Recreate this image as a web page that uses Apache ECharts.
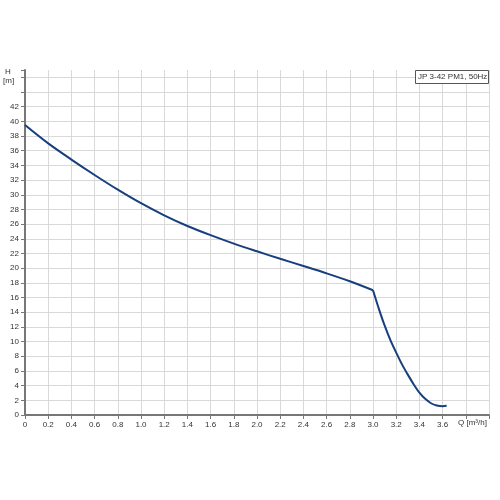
<!DOCTYPE html>
<html><head><meta charset="utf-8">
<script src="https://cdn.jsdelivr.net/npm/echarts@6/dist/echarts.min.js"></script>
<style>html,body{margin:0;padding:0;background:#fff}#c{width:500px;height:500px}</style>
</head><body><div id="c"></div>
<script>
const qUpper = [0, 0.2, 0.4, 0.6, 0.8, 1.0, 1.2, 1.4, 1.6, 1.8, 2.0, 2.2, 2.4, 2.6, 2.8, 3.0];
const hUpper = [39.5, 37.0, 34.8, 32.7, 30.7, 28.85, 27.2, 25.75, 24.5, 23.35, 22.3, 21.28, 20.3, 19.3, 18.22, 17.0];
const qLower = [3.0, 3.05, 3.1, 3.15, 3.2, 3.25, 3.3, 3.35, 3.4, 3.45, 3.5, 3.55, 3.6, 3.635];
const hLower = [17.0, 14.5, 12.2, 10.2, 8.5, 6.9, 5.5, 4.2, 3.05, 2.2, 1.6, 1.3, 1.2, 1.25];
const title = 'JP 3-42 PM1, 50Hz';
const yName = ['H', '[m]'];
const xName = 'Q [m\u00b3/h]';

const upper = qUpper.map((q, i) => [q, hUpper[i]]);
const lower = qLower.map((q, i) => [q, hLower[i]]);
const ySplitColors = [];
for (let v = 0; v <= 46; v += 2) ySplitColors.push('#d9d9d9');
ySplitColors.push('rgba(0,0,0,0)');

const chart = echarts.init(document.getElementById('c'), null, {renderer: 'canvas'});
const font = 'Liberation Sans, Arial, sans-serif';
chart.setOption({
  animation: false,
  backgroundColor: '#fff',
  grid: {left: 25, right: 11, top: 70, bottom: 85, containLabel: false},
  xAxis: {
    type: 'value', min: 0, max: 4.0, interval: 0.2,
    axisLine: {show: true, lineStyle: {color: '#777', width: 2}},
    axisTick: {show: true, length: 4, lineStyle: {color: '#777'}},
    axisLabel: {fontSize: 8, color: '#333', fontFamily: font, margin: 6,
      formatter: v => v === 0 ? '0' : (v <= 3.61 ? v.toFixed(1) : '')},
    splitLine: {show: true, lineStyle: {color: '#d9d9d9', width: 1}}
  },
  yAxis: {
    type: 'value', min: 0, max: 47, interval: 2,
    axisLine: {show: true, lineStyle: {color: '#777', width: 2}},
    axisTick: {show: true, length: 4, lineStyle: {color: '#777'}},
    axisLabel: {fontSize: 8, color: '#333', fontFamily: font, margin: 6,
      formatter: v => v <= 42 ? String(v) : ''},
    splitLine: {show: true, lineStyle: {color: ySplitColors, width: 1}}
  },
  series: [
    {type: 'line', data: upper, smooth: 0.3, showSymbol: false,
     lineStyle: {color: '#173f7e', width: 2}},
    {type: 'line', data: lower, smooth: 0.3, showSymbol: false,
     lineStyle: {color: '#173f7e', width: 2}}
  ],
  graphic: [
    {type: 'text', left: 5, top: 68, style: {text: yName[0], fill: '#333', font: '8px ' + font}},
    {type: 'text', left: 3, top: 77, style: {text: yName[1], fill: '#333', font: '8px ' + font}},
    {type: 'text', left: 458, top: 419, style: {text: xName, fill: '#333', font: '8px ' + font}},
    {type: 'rect', shape: {x: 415.5, y: 70.5, width: 73, height: 13},
     style: {fill: '#fff', stroke: '#555', lineWidth: 1}, z: 10},
    {type: 'text', x: 418, y: 73, style: {text: title, fill: '#333', font: '8px ' + font}, z: 11}
  ]
});
</script></body></html>
